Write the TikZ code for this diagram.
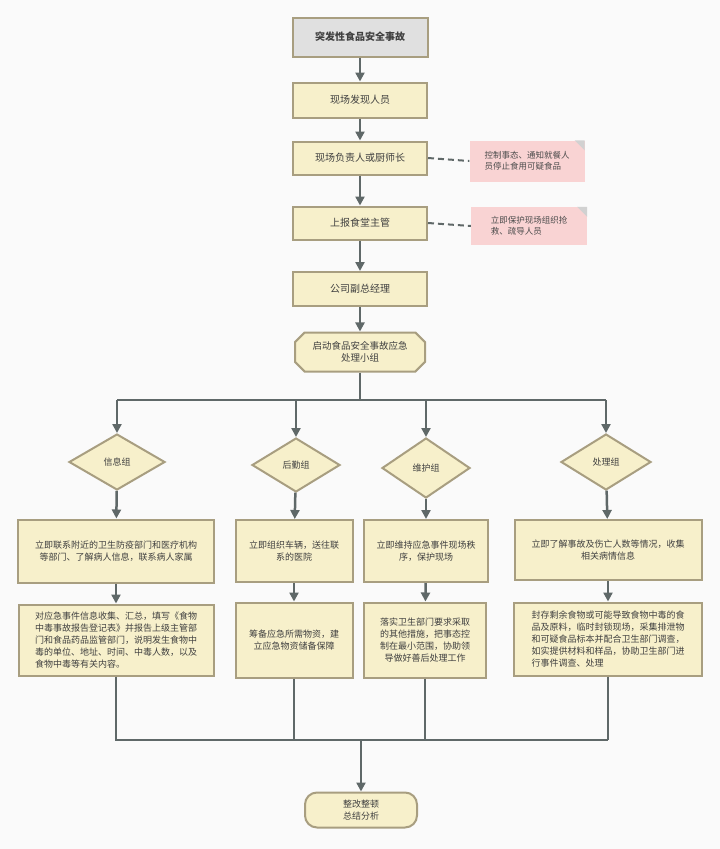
\documentclass[tikz,border=0pt]{standalone}
\usepackage{fontspec}
\setmainfont{Noto Sans CJK SC}
\usetikzlibrary{arrows.meta,shapes.geometric,shapes.misc}
\definecolor{boxfill}{HTML}{F7F0CB}
\definecolor{boxline}{HTML}{A89E80}
\definecolor{flow}{HTML}{5F6868}
\definecolor{notefill}{HTML}{F9D3D3}
\tikzset{
  stepbox/.style={draw=boxline, line width=2pt, fill=boxfill, text=black!75, font=\fontsize{10}{13}\selectfont, align=center, inner sep=4pt},
  topbox/.style={stepbox, fill=black!12, font=\bfseries\fontsize{10}{13}\selectfont},
  groupbox/.style={draw=boxline, line width=2pt, fill=boxfill, text=black!75, diamond, aspect=2, inner sep=1pt, font=\fontsize{9}{11}\selectfont},
  notebox/.style={fill=notefill, text=black!70, font=\fontsize{8.5}{11}\selectfont, align=left, inner sep=5pt},
  flowline/.style={draw=flow, line width=2.5pt},
  arrowline/.style={flowline, -{Triangle[length=9pt,width=9pt]}},
  noteline/.style={draw=flow, line width=2pt, dash pattern=on 6pt off 4pt}
}
\begin{document}
\begin{tikzpicture}[x=1pt, y=-1pt]
\useasboundingbox[fill=black!2] (0,0) rectangle (720,849);

% main chain
\node[topbox, minimum width=135pt, minimum height=39pt] (start) at (360,37) {突发性食品安全事故};
\node[stepbox, minimum width=134pt, minimum height=35pt] (find) at (360,100) {现场发现人员};
\node[stepbox, minimum width=134pt, minimum height=33pt] (chef) at (360,158) {现场负责人或厨师长};
\node[stepbox, minimum width=134pt, minimum height=33pt] (report) at (360,223) {上报食堂主管};
\node[stepbox, minimum width=134pt, minimum height=34pt] (manager) at (360,289) {公司副总经理};
\node[stepbox, chamfered rectangle, chamfered rectangle xsep=6pt, chamfered rectangle corners={north west,south west,north east,south east},
  minimum width=130pt, minimum height=39pt, font=\fontsize{9.5}{12}\selectfont] (team) at (360,352) {启动食品安全事故应急\\处理小组};

% notes
\node[notebox, minimum width=115pt, minimum height=41pt] (note1) at (527,161) {控制事态、通知就餐人\\员停止食用可疑食品};
\node[notebox, minimum width=116pt, minimum height=38pt] (note2) at (529,226) {立即保护现场组织抢\\救、疏导人员};
\fill[black!18] (note1.north east) -- ++(-10,0) -- ++(10,10) -- cycle;
\fill[black!18] (note2.north east) -- ++(-10,0) -- ++(10,10) -- cycle;
\draw[noteline] (chef.east) -- (note1.west);
\draw[noteline] (report.east) -- (note2.west);

\draw[arrowline] (start) -- (find);
\draw[arrowline] (find) -- (chef);
\draw[arrowline] (chef) -- (report);
\draw[arrowline] (report) -- (manager);
\draw[arrowline] (manager) -- (team);

% groups
\node[groupbox, minimum width=96pt, minimum height=56pt] (info) at (117,462) {信息组};
\node[groupbox, minimum width=88pt, minimum height=54pt] (supply) at (296,465) {后勤组};
\node[groupbox, minimum width=88pt, minimum height=60pt] (guard) at (426,468) {维护组};
\node[groupbox, minimum width=90pt, minimum height=56pt] (handle) at (606,462) {处理组};

\coordinate (split) at (360,400);
\draw[flowline] (team.south) -- (split);
\draw[flowline] (117,400) -- (606,400);
\draw[arrowline] (117,400) -- (info.north);
\draw[arrowline] (296,400) -- (supply.north);
\draw[arrowline] (426,400) -- (guard.north);
\draw[arrowline] (606,400) -- (handle.north);

% first actions
\node[stepbox, minimum width=196pt, minimum height=63pt, font=\fontsize{9}{12}\selectfont] (info1) at (116,551) {立即联系附近的卫生防疫部门和医疗机构\\等部门、了解病人信息，联系病人家属};
\node[stepbox, minimum width=117pt, minimum height=62pt, font=\fontsize{9}{12}\selectfont] (supply1) at (294,551) {立即组织车辆，送往联\\系的医院};
\node[stepbox, minimum width=124pt, minimum height=62pt, font=\fontsize{9}{12}\selectfont] (guard1) at (426,551) {立即维持应急事件现场秩\\序，保护现场};
\node[stepbox, minimum width=187pt, minimum height=60pt, font=\fontsize{9}{12}\selectfont] (handle1) at (608,550) {立即了解事故及伤亡人数等情况，收集\\相关病情信息};

% second actions
\node[stepbox, minimum width=195pt, minimum height=71pt, align=left, font=\fontsize{9}{12}\selectfont] (info2) at (116,640) {对应急事件信息收集、汇总，填写《食物\\中毒事故报告登记表》并报告上级主管部\\门和食品药品监管部门，说明发生食物中\\毒的单位、地址、时间、中毒人数，以及\\食物中毒等有关内容。};
\node[stepbox, minimum width=117pt, minimum height=75pt, font=\fontsize{9}{12}\selectfont] (supply2) at (294,640) {筹备应急所需物资，建\\立应急物资储备保障};
\node[stepbox, minimum width=122pt, minimum height=75pt, font=\fontsize{9}{12}\selectfont] (guard2) at (425,640) {落实卫生部门要求采取\\的其他措施，把事态控\\制在最小范围，协助领\\导做好善后处理工作};
\node[stepbox, minimum width=188pt, minimum height=73pt, align=left, font=\fontsize{9}{12}\selectfont] (handle2) at (608,639) {封存剩余食物或可能导致食物中毒的食\\品及原料，临时封锁现场，采集排泄物\\和可疑食品标本并配合卫生部门调查，\\如实提供材料和样品，协助卫生部门进\\行事件调查、处理};

\draw[arrowline] (info) -- (info1);
\draw[arrowline] (supply) -- (supply1);
\draw[arrowline] (guard) -- (guard1);
\draw[arrowline] (handle) -- (handle1);
\draw[arrowline] (info1) -- (info2);
\draw[arrowline] (supply1) -- (supply2);
\draw[arrowline] (guard1) -- (guard2);
\draw[arrowline] (handle1) -- (handle2);

% merge
\node[stepbox, rounded corners=12pt, minimum width=112pt, minimum height=35pt, font=\fontsize{9}{12}\selectfont] (summary) at (361,810) {整改整顿\\总结分析};
\coordinate (merge) at (361,740);
\draw[flowline] (info2.south) -- (116,740) -- (608,740);
\draw[flowline] (supply2.south) -- (294,740);
\draw[flowline] (guard2.south) -- (425,740);
\draw[flowline] (handle2.south) -- (608,740);
\draw[arrowline] (merge) -- (summary);

\end{tikzpicture}
\end{document}
